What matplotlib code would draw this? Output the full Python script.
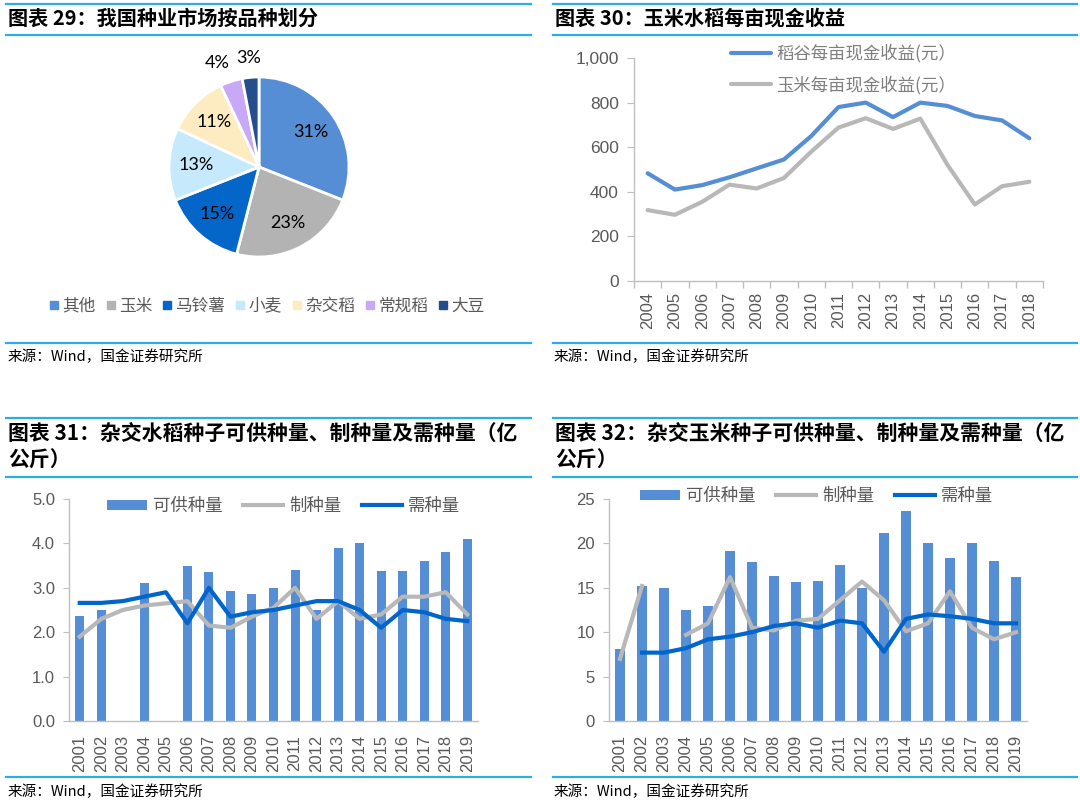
import numpy as np
import matplotlib
matplotlib.use("Agg")
import matplotlib.pyplot as plt
from matplotlib.lines import Line2D
import matplotlib.transforms as mtransforms

# ---------------- data ----------------
pie_labels = ['其他', '玉米', '马铃薯', '小麦', '杂交稻', '常规稻', '大豆']
pie_values = [31, 23, 15, 13, 11, 4, 3]
pie_colors = ['#558ed5', '#b3b3b3', '#0566c9', '#c6e9fc', '#fdebc1', '#c8a9f8', '#254f8a']

years_income = ['2004', '2005', '2006', '2007', '2008', '2009', '2010', '2011',
                '2012', '2013', '2014', '2015', '2016', '2017', '2018']
rice_income = [483, 410, 430, 465, 505, 545, 650, 780, 800, 735, 800, 785, 740, 720, 640]
corn_income = [318, 297, 355, 432, 415, 462, 580, 688, 730, 682, 728, 520, 343, 425, 445]

years_seed = [str(y) for y in range(2001, 2020)]
rice_supply = [2.37, 2.50, np.nan, 3.10, np.nan, 3.50, 3.35, 2.92, 2.85, 3.00,
               3.40, 2.50, 3.90, 4.02, 3.37, 3.38, 3.60, 3.80, 4.10]
rice_produce = [1.90, 2.30, 2.50, 2.60, 2.65, 2.70, 2.15, 2.10, 2.35, 2.55,
                3.00, 2.30, 2.70, 2.30, 2.40, 2.80, 2.80, 2.90, 2.40]
rice_demand = [2.66, 2.66, 2.70, 2.80, 2.90, 2.20, 3.00, 2.35, 2.45, 2.50,
               2.60, 2.70, 2.70, 2.50, 2.10, 2.50, 2.45, 2.30, 2.25]

corn_supply = [8.1, 15.2, 15.0, 12.5, 13.0, 19.2, 17.9, 16.3, 15.7, 15.8,
               17.6, 15.0, 21.2, 23.6, 20.0, 18.4, 20.0, 18.0, 16.2]
corn_produce = [7.0, 15.2, np.nan, 9.7, 11.0, 16.2, 10.5, 10.2, 11.3, 11.5,
                13.6, 15.7, 13.6, 10.1, 11.0, 14.6, 10.5, 9.2, 10.0]
corn_demand = [np.nan, 7.7, 7.7, 8.2, 9.2, 9.5, 10.0, 10.7, 11.0, 10.5,
               11.3, 11.0, 7.8, 11.5, 12.0, 11.8, 11.5, 11.0, 11.0]

seed_series = ['可供种量', '制种量', '需种量']
income_series = ['稻谷每亩现金收益(元）', '玉米每亩现金收益(元）']

titles = ['图表 29：我国种业市场按品种划分', '图表 30：玉米水稻每亩现金收益']
titles_b = [['图表 31：杂交水稻种子可供种量、制种量及需种量（亿', '公斤）'],
            ['图表 32：杂交玉米种子可供种量、制种量及需种量（亿', '公斤）']]
source = '来源：Wind，国金证券研究所'

# ---------------- style ----------------
W, H = 1080, 805
plt.rcParams['font.family'] = ['Liberation Sans', 'Noto Sans CJK SC', 'DejaVu Sans']
CJK = ['Noto Sans CJK SC', 'DejaVu Sans']
RULE = '#2aaee6'
TXT = '#595959'
AXC = '#bfbfbf'
BAR = '#558ed5'
GRAY = '#b8b8b8'
BLUE = '#0066cc'

fig = plt.figure(figsize=(W / 100, H / 100), dpi=100)


def fx(x):
    return x / W


def fy(y):
    return 1 - y / H


def add_ax(l, t, r, b):
    return fig.add_axes([fx(l), fy(b), (r - l) / W, (b - t) / H])


def rule(x0, x1, y):
    fig.add_artist(Line2D([fx(x0), fx(x1)], [fy(y), fy(y)], color=RULE, lw=1.6))


# header / footer rules
for (x0, x1) in [(6, 531), (553, 1077)]:
    for y in (4, 35, 343, 418, 477, 777):
        rule(x0, x1, y)

# titles
fig.text(fx(8), fy(18), titles[0], family=CJK, fontsize=14.5, fontweight='bold',
         va='center', ha='left', color='black')
fig.text(fx(555), fy(18), titles[1], family=CJK, fontsize=14.5, fontweight='bold',
         va='center', ha='left', color='black')
for xs, lines in zip((8, 555), titles_b):
    fig.text(fx(xs), fy(434), lines[0], family=CJK, fontsize=15, fontweight='bold',
             va='center', ha='left', color='black')
    fig.text(fx(xs), fy(460), lines[1], family=CJK, fontsize=15, fontweight='bold',
             va='center', ha='left', color='black')
# sources
for xs in (8, 554):
    for y in (357, 792):
        fig.text(fx(xs), fy(y), source, family=CJK, fontsize=10.5, va='center',
                 ha='left', color='black')

# ---------------- pie ----------------
axp = add_ax(169, 77, 349, 257)
wedges, texts, autotexts = axp.pie(
    pie_values, colors=pie_colors, startangle=90, counterclock=False,
    autopct='%d%%', pctdistance=0.70,
    wedgeprops=dict(edgecolor='white', linewidth=2),
    textprops=dict(fontsize=13, color='black', family=['Lato', 'DejaVu Sans']))
small = [i for i, v in enumerate(pie_values) if v < 5]
for k, i in enumerate(small):
    w, t = wedges[i], autotexts[i]
    ang = np.deg2rad((w.theta1 + w.theta2) / 2)
    t.set_position((1.22 * np.cos(ang), 1.22 * np.sin(ang)))
    if k == 0:  # nudge the first outside label left so the two do not touch
        t.set_transform(mtransforms.offset_copy(axp.transData, fig=fig, x=-8, y=0,
                                                units='dots'))
axp.set_xlim(-1, 1)
axp.set_ylim(-1, 1)
axp.set_aspect('equal')

pie_handles = [Line2D([], [], marker='s', linestyle='none', markersize=5.5,
                      markerfacecolor=c, markeredgecolor=c) for c in pie_colors]
fig.legend(pie_handles, pie_labels, loc='center', bbox_to_anchor=(fx(267), fy(306)),
           ncol=7, frameon=False, handletextpad=0.2, columnspacing=0.6,
           handlelength=0.6, prop=dict(family=CJK, size=12), labelcolor=TXT,
           borderpad=0, borderaxespad=0)

# ---------------- income lines ----------------
axi = add_ax(634, 58, 1043, 281)
xi = np.arange(len(years_income))
axi.plot(xi, rice_income, color='#558ed5', lw=3, solid_capstyle='round',
         label=income_series[0])
axi.plot(xi, corn_income, color=GRAY, lw=3, solid_capstyle='round',
         label=income_series[1])
axi.set_xlim(-0.5, len(years_income) - 0.5)
axi.set_ylim(0, 1000)
axi.set_yticks([0, 200, 400, 600, 800, 1000])
axi.set_yticklabels(['0', '200', '400', '600', '800', '1,000'])
axi.set_xticks(xi)
axi.set_xticklabels(years_income, rotation=90)
axi.set_xticks(np.arange(-0.5, len(years_income)), minor=True)
axi.tick_params(axis='x', which='major', length=0, pad=8, labelsize=12, labelcolor=TXT)
axi.tick_params(axis='x', which='minor', length=5, color=AXC, width=1)
axi.tick_params(axis='y', length=5, color=AXC, labelsize=12.5, labelcolor=TXT, pad=6)
for s in ('top', 'right'):
    axi.spines[s].set_visible(False)
for s in ('left', 'bottom'):
    axi.spines[s].set_color(AXC)
    axi.spines[s].set_linewidth(1)
fig.legend(*axi.get_legend_handles_labels(), loc='upper left',
           bbox_to_anchor=(fx(731), fy(44)), frameon=False, borderpad=0,
           borderaxespad=0, handlelength=2.3, handletextpad=0.3, labelspacing=0.75,
           prop=dict(family=CJK, size=12.5), labelcolor='#7f7f7f')


# ---------------- seed charts ----------------
def seed_chart(box, supply, produce, demand, ymax, yticks, yfmt, leg_xy):
    ax = add_ax(*box)
    x = np.arange(len(years_seed))
    hb = ax.bar(x, supply, width=0.42, color=BAR, label=seed_series[0], zorder=2)
    hp, = ax.plot(x, produce, color=GRAY, lw=3, label=seed_series[1], zorder=3)
    hd, = ax.plot(x, demand, color=BLUE, lw=3, label=seed_series[2], zorder=4)
    ax.set_xlim(-0.5, len(years_seed) - 0.5)
    ax.set_ylim(0, ymax)
    ax.set_yticks(yticks)
    ax.set_yticklabels([yfmt.format(v) for v in yticks])
    ax.set_xticks(x)
    ax.set_xticklabels(years_seed, rotation=90)
    ax.tick_params(axis='x', length=0, pad=10, labelsize=12, labelcolor=TXT)
    ax.tick_params(axis='y', length=4, color=AXC, labelsize=12, labelcolor=TXT, pad=6)
    for s in ('top', 'right'):
        ax.spines[s].set_visible(False)
    for s in ('left', 'bottom'):
        ax.spines[s].set_color(AXC)
        ax.spines[s].set_linewidth(1)
    fig.legend([hb, hp, hd], seed_series, loc='upper left',
               bbox_to_anchor=(fx(leg_xy[0]), fy(leg_xy[1])),
               ncol=3, frameon=False, borderpad=0, borderaxespad=0,
               handlelength=2.3, handleheight=0.55, handletextpad=0.35,
               columnspacing=1.2, prop=dict(family=CJK, size=12.5), labelcolor=TXT)
    return ax


seed_chart((69, 499, 478, 721), rice_supply, rice_produce, rice_demand,
           5, [0, 1, 2, 3, 4, 5], '{:.1f}', (107, 497))
seed_chart((609, 499, 1027, 721), corn_supply, corn_produce, corn_demand,
           25, [0, 5, 10, 15, 20, 25], '{:d}', (640, 487))

fig.savefig('out.png', dpi=100)
